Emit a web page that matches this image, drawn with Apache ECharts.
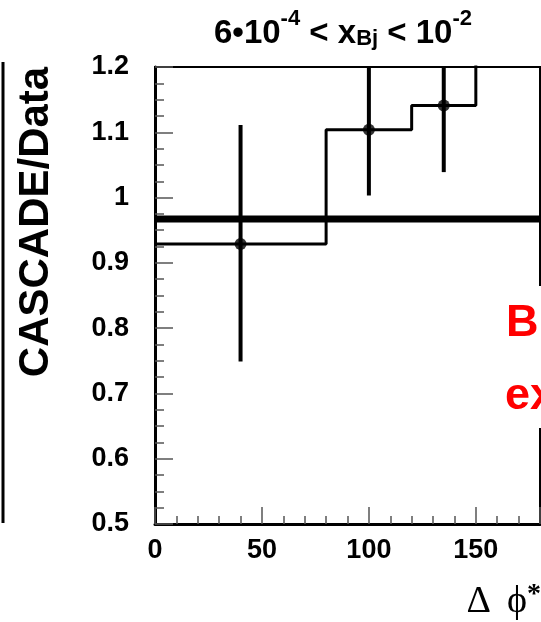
<!DOCTYPE html>
<html><head><meta charset="utf-8">
<script src="https://cdn.jsdelivr.net/npm/echarts@6/dist/echarts.min.js"></script>
<style>html,body{margin:0;padding:0;background:#fff}#c{width:541px;height:622px}</style>
</head><body><div id="c"></div>
<script>
// Data
const histEdges = [0, 80, 120, 150, 180];
const histValues = [0.929, 1.104, 1.141, 1.26];
const pointX = [40, 100, 135];
const pointY = [0.929, 1.104, 1.141];
const errLow = [0.749, 1.003, 1.039];
const errHigh = [1.111, 1.205, 1.243];
const refLineY = 0.967;
const xTicks = [0, 50, 100, 150];
const yTicks = [0.5, 0.6, 0.7, 0.8, 0.9, 1, 1.1, 1.2];

const X_MIN = 0, X_MAX = 180, Y_MIN = 0.5, Y_MAX = 1.2;
const FONT = '"Liberation Sans", Arial, sans-serif';

const histData = [];
for (let i = 0; i < histValues.length; i++) histData.push([histEdges[i], histValues[i]]);
histData.push([histEdges[histEdges.length - 1], histValues[histValues.length - 1]]);

const chart = echarts.init(document.getElementById('c'), null, {renderer: 'canvas'});
chart.setOption({
  animation: false,
  backgroundColor: '#fff',
  grid: {left: 155, top: 67, right: 1, bottom: 98, show: true, borderColor: '#000', borderWidth: 2, backgroundColor: 'transparent'},
  title: {
    text: '{n|6•10}{s|-4}{n| < x}{b|Bj}{n| < 10}{s|-2}',
    left: 338, top: 3, textAlign: 'center',
    textStyle: {
      rich: {
        n: {fontFamily: FONT, fontWeight: 'bold', fontSize: 33, color: '#000', verticalAlign: 'bottom', lineHeight: 42},
        s: {fontFamily: FONT, fontWeight: 'bold', fontSize: 22, color: '#000', verticalAlign: 'top', padding: [0,0,19,0], lineHeight: 42},
        b: {fontFamily: FONT, fontWeight: 'bold', fontSize: 22, color: '#000', padding: [19,0,0,0], lineHeight: 42}
      }
    }
  },
  xAxis: [{
    type: 'value', min: X_MIN, max: X_MAX, interval: 50,
    axisLine: {show: true, onZero: false, lineStyle: {color: '#000', width: 3}},
    axisTick: {show: true, inside: true, length: 17, lineStyle: {color: '#555', width: 1.5}},
    minorTick: {show: true, splitNumber: 5, length: 8, lineStyle: {color: '#555', width: 1.5}},
    splitLine: {show: false}, minorSplitLine: {show: false},
    axisLabel: {showMaxLabel: false, margin: 13, fontFamily: FONT, fontWeight: 'bold', fontSize: 27, color: '#000',
      formatter: v => xTicks.includes(v) ? String(v) : ''}
  }],
  yAxis: [{
    type: 'value', min: Y_MIN, max: Y_MAX, interval: 0.1,
    axisLine: {show: true, onZero: false, lineStyle: {color: '#000', width: 3}},
    axisTick: {show: true, inside: true, length: 18, lineStyle: {color: '#555', width: 1.5}},
    minorTick: {show: true, splitNumber: 4, length: 9, lineStyle: {color: '#555', width: 1.5}},
    splitLine: {show: false}, minorSplitLine: {show: false},
    axisLabel: {margin: 26, fontFamily: FONT, fontWeight: 'bold', fontSize: 27, color: '#000',
      formatter: v => { const t = yTicks.find(y => Math.abs(y - v) < 1e-6); return t === undefined ? '' : String(t); }}
  }],
  series: [
    {type: 'line', data: [[X_MIN, refLineY], [X_MAX, refLineY]], symbol: 'none', lineStyle: {color: '#000', width: 7}, z: 3},
    {type: 'line', data: histData, step: 'end', symbol: 'none', clip: true, lineStyle: {color: '#000', width: 3}, z: 4},
    {type: 'custom', clip: true, z: 5,
      data: pointX.map((x, i) => [x, errLow[i], errHigh[i]]),
      renderItem: function (params, api) {
        const x = api.value(0);
        const lo = Math.max(api.value(1), Y_MIN), hi = Math.min(api.value(2), Y_MAX);
        const p1 = api.coord([x, lo]), p2 = api.coord([x, hi]);
        return {type: 'line', shape: {x1: p1[0], y1: p1[1], x2: p2[0], y2: p2[1]}, style: {stroke: '#000', lineWidth: 4}};
      }
    },
    {type: 'scatter', data: pointX.map((x, i) => [x, pointY[i]]), symbol: 'circle', symbolSize: 12, itemStyle: {color: '#000'}, z: 6}
  ],
  graphic: [
    {type: 'line', shape: {x1: 3, y1: 62, x2: 3, y2: 523}, style: {stroke: '#000', lineWidth: 3}},
    {type: 'text', x: 36, y: 222, rotation: Math.PI / 2,
      style: {text: 'CASCADE/Data', font: 'bold 42px ' + FONT, fill: '#000', textAlign: 'center', textVerticalAlign: 'middle'}},
    {type: 'rect', shape: {x: 497, y: 286, width: 44, height: 142}, style: {fill: '#fff'}, z: 100},
    {type: 'text', x: 506, y: 324, z: 101,
      style: {text: 'B', font: 'bold 45px ' + FONT, fill: '#ff0000', textAlign: 'left', textVerticalAlign: 'middle'}},
    {type: 'text', x: 505, y: 397, z: 101,
      style: {text: 'ex', font: 'bold 45px ' + FONT, fill: '#ff0000', textAlign: 'left', textVerticalAlign: 'middle'}},
    {type: 'text', x: 541, y: 601, z: 101,
      style: {text: '{m|Δ}{g| }{m|ϕ}{s|*}', textAlign: 'right', textVerticalAlign: 'middle',
        rich: {m: {font: '38px "Liberation Serif", "DejaVu Serif", serif', fill: '#000', verticalAlign: 'bottom', lineHeight: 40},
               g: {font: '38px "Liberation Serif", serif', width: 16, lineHeight: 40},
               s: {font: 'bold 28px "Liberation Serif", "DejaVu Serif", serif', fill: '#000', verticalAlign: 'top', lineHeight: 40}}}}
  ]
});
</script></body></html>
